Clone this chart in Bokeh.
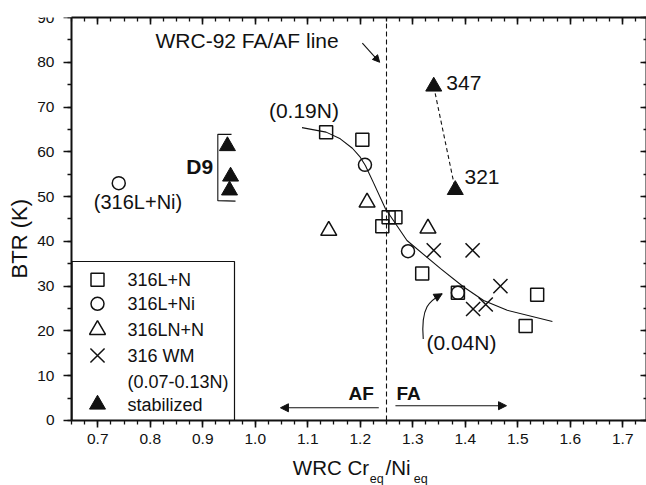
import math
from bokeh.plotting import figure
from bokeh.models import (Range1d, LinearAxis, Label, Arrow, NormalHead,
                          SingleIntervalTicker, PrintfTickFormatter, CustomJSTickFormatter)
from bokeh.embed import file_html
from bokeh.resources import INLINE

FONT = "Liberation Sans"
INK = "#111111"

# ---------------- data ----------------
# 316L+N (open squares)
sq_x = [1.135, 1.204, 1.242, 1.254, 1.267, 1.318, 1.386, 1.515, 1.537]
sq_y = [64.4, 62.7, 43.4, 45.4, 45.4, 32.8, 28.5, 21.1, 28.1]
# 316L+Ni (open circles)
ci_x = [0.740, 1.209, 1.291, 1.386]
ci_y = [53.0, 57.1, 37.8, 28.5]
# 316LN+N (open triangles)
tri_x = [1.140, 1.213, 1.329]
tri_y = [42.4, 48.7, 42.9]
# 316 WM (crosses)
wm_x = [1.340, 1.414, 1.415, 1.439, 1.467]
wm_y = [38.0, 38.0, 24.9, 25.9, 30.0]
# stabilized (filled triangles): three D9, then 347 and 321
st_x = [0.947, 0.953, 0.951, 1.340, 1.381]
st_y = [61.3, 54.5, 51.4, 74.6, 51.5]
# hand-drawn trend curve
fit_x = [1.089, 1.135, 1.162, 1.185, 1.200, 1.210, 1.226, 1.248, 1.289, 1.353, 1.397, 1.435, 1.480, 1.566]
fit_y = [65.4, 64.4, 62.9, 60.8, 58.8, 56.9, 52.9, 47.3, 40.2, 33.9, 29.8, 26.8, 24.6, 22.1]
# FA/AF boundary
fa_af_line = 1.25

x_min, x_max = 0.65, 1.74524
y_min, y_max = 0, 90
x_view_min = 0.51476         # room left of the y axis for its labels and title
y_view_min = -14.52          # room below the x axis for its title
x_ticks_interval = 0.1
y_ticks_interval = 10

legend_labels = ["316L+N", "316L+Ni", "316LN+N", "316 WM", "(0.07-0.13N)", "stabilized"]

# ---------------- figure ----------------
W, H = 646, 485
MT = 17
p = figure(width=W, height=H, x_range=Range1d(x_view_min, x_max), y_range=Range1d(y_view_min, y_max),
           output_backend="svg", toolbar_location=None,
           min_border_left=0, min_border_right=0, min_border_top=MT, min_border_bottom=0)
p.outline_line_color = None
p.xgrid.visible = False
p.ygrid.visible = False
p.background_fill_color = "white"
p.border_fill_color = "white"

xt = SingleIntervalTicker(interval=x_ticks_interval, num_minor_ticks=4)
yt = SingleIntervalTicker(interval=y_ticks_interval, num_minor_ticks=2)


def style_axis(ax, major_out, major_in, minor_out, minor_in, labels=True):
    ax.axis_line_color = INK
    ax.axis_line_width = 2
    ax.major_tick_line_color = INK
    ax.major_tick_line_width = 1.6
    ax.minor_tick_line_color = INK
    ax.minor_tick_line_width = 1.3
    ax.major_tick_out = major_out
    ax.major_tick_in = major_in
    ax.minor_tick_out = minor_out
    ax.minor_tick_in = minor_in
    ax.major_label_text_font = FONT
    if labels:
        ax.major_label_text_color = INK
        ax.major_label_text_font_size = "15.5px"
    else:
        ax.formatter = CustomJSTickFormatter(code="return ''")
        ax.major_label_text_color = None
        ax.major_label_text_font_size = "1px"
        ax.major_label_standoff = 0


# bottom axis, pinned at y = 0
xa = p.xaxis[0]
xa.ticker = xt
xa.formatter = PrintfTickFormatter(format="%.1f")
xa.bounds = (x_min, x_max)
style_axis(xa, 7, 0, 4, 0)
xa.major_label_standoff = 7
xa.fixed_location = y_min

# left axis, pinned at x = 0.65
ya = p.yaxis[0]
ya.ticker = yt
ya.bounds = (y_min, y_max)
style_axis(ya, 8, 0, 4, 0)
ya.major_label_standoff = 9
ya.fixed_location = x_min

top_ax = LinearAxis(ticker=xt, bounds=(x_min, x_max))
style_axis(top_ax, 0, 7, 0, 4, labels=False)
p.add_layout(top_ax, "above")
right_ax = LinearAxis(ticker=yt, bounds=(y_min, y_max))
style_axis(right_ax, 0, 6, 0, 3, labels=False)
p.add_layout(right_ax, "right")

# ---------------- reference line & curve ----------------
p.line([fa_af_line, fa_af_line], [y_min, y_max], line_color=INK, line_width=1.1, line_dash="5 3")
p.line(fit_x, fit_y, line_color=INK, line_width=1.1)
p.line(st_x[3:5], st_y[3:5], line_color=INK, line_width=1.1, line_dash="4 3")

# ---------------- markers ----------------
mk = dict(fill_color=None, line_color=INK, line_width=1.5)
p.scatter(sq_x, sq_y, marker="square", size=13, **mk)
p.scatter(ci_x, ci_y, marker="circle", size=13, **mk)
p.scatter(tri_x, tri_y, marker="triangle", size=16, **mk)
p.scatter(wm_x, wm_y, marker="x", size=20, line_color=INK, line_width=1.5)
p.scatter(st_x, st_y, marker="triangle", size=16, fill_color=INK, line_color=INK, line_width=1)


# ---------------- annotations ----------------
def add_label(x, y, text, size, align="left", bold=False, x_offset=0, angle=0):
    p.add_layout(Label(x=x, y=y, text=text, text_font=FONT, text_font_size=f"{size}px",
                       text_font_style="bold" if bold else "normal", text_color=INK,
                       text_align=align, text_baseline="middle", x_offset=x_offset, angle=angle))


add_label(0.810, 84.9, "WRC-92 FA/AF line", 21)
add_label(1.026, 69.2, "(0.19N)", 21)
add_label(0.6925, 48.7, "(316L+Ni)", 20)
add_label(0.8685, 56.8, "D9", 21, bold=True)
add_label(1.364, 75.3, "347", 21)
add_label(1.3986, 54.3, "321", 21)
add_label(1.326, 17.5, "(0.04N)", 21)
add_label(1.2258, 6.0, "AF", 19, align="right", bold=True)
add_label(1.269, 6.0, "FA", 19, bold=True)

# y-axis title
add_label(0.55, 40.6, "BTR (K)", 22, align="center", angle=math.pi / 2)

# x-axis title with subscripts (below the pinned axis)
XT_X, XT_Y, XT_SUB_Y = 1.0715, -10.61, -12.97
add_label(XT_X, XT_Y, "WRC Cr", 20.5, x_offset=0)
add_label(XT_X, XT_SUB_Y, "eq", 12.5, x_offset=77)
add_label(XT_X, XT_Y, "/Ni", 20.5, x_offset=92.7)
add_label(XT_X, XT_SUB_Y, "eq", 12.5, x_offset=121)

# D9 bracket
p.line([0.9548, 0.9287, 0.9287, 0.9624], [63.9, 63.9, 49.1, 49.0], line_color=INK, line_width=1.1)


# arrows
def arrow(x0, y0, x1, y1, size=8, lw=1.1):
    p.add_layout(Arrow(x_start=x0, y_start=y0, x_end=x1, y_end=y1, line_color=INK, line_width=lw,
                       end=NormalHead(size=size, fill_color=INK, line_color=INK, line_width=1)))


arrow(1.204, 84.3, 1.237, 80.0, size=7)
arrow(1.2353, 2.84, 1.048, 2.84, size=8)
arrow(1.267, 3.3, 1.4786, 3.3, size=8)
# curved arrow to the (0.04N) point
p.bezier(x0=[1.320], y0=[18.2], x1=[1.356], y1=[28.3], cx0=[1.3148], cy0=[25.7],
         cx1=[1.3338], cy1=[26.8], line_color=INK, line_width=1.1)
arrow(1.3471, 27.7, 1.356, 28.3, size=8)

# ---------------- legend (drawn in frame pixel units, origin at the axes corner) ----------------
FW, FH = W, H - MT
left_px = round((x_min - x_view_min) * FW / (x_max - x_view_min))
below_px = round((y_min - y_view_min) * FH / (y_max - y_view_min))
p.extra_x_ranges = {"px": Range1d(-left_px, FW - left_px)}
p.extra_y_ranges = {"px": Range1d(-below_px, FH - below_px)}
px = dict(x_range_name="px", y_range_name="px")
p.quad(left=[0.5], right=[163], bottom=[0], top=[159], fill_color="white",
       line_color=INK, line_width=1.2, **px)
rows = [140.7, 116.7, 90.7, 65.0, 38.3, 16.0]
gx, tx = 26, 56
p.scatter([gx], [rows[0]], marker="square", size=13, **mk, **px)
p.scatter([gx], [rows[1]], marker="circle", size=13, **mk, **px)
p.scatter([gx], [rows[2]], marker="triangle", size=16, **mk, **px)
p.scatter([gx], [rows[3]], marker="x", size=20, line_color=INK, line_width=1.5, **px)
p.scatter([gx], [rows[5]], marker="triangle", size=16, fill_color=INK, line_color=INK, **px)
for lab, ry in zip(legend_labels, rows):
    p.add_layout(Label(x=tx, y=ry, text=lab, text_font=FONT, text_font_size="18px",
                       text_color=INK, text_baseline="middle", x_range_name="px", y_range_name="px"))

open("out.html", "w").write(file_html(p, INLINE))
